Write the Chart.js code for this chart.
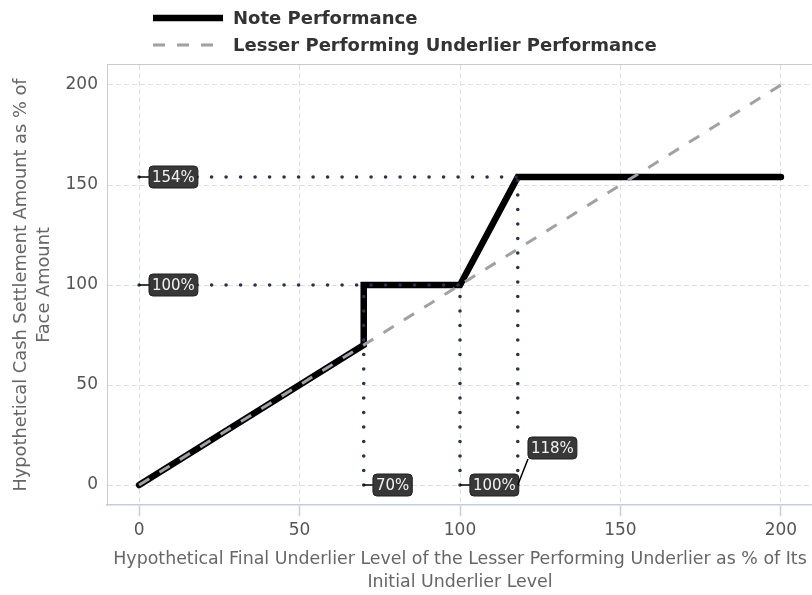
<!DOCTYPE html>
<html><head><meta charset="utf-8">
<script src="https://cdn.jsdelivr.net/npm/chart.js@4.4.1/dist/chart.umd.min.js"></script>
<style>html,body{margin:0;padding:0;overflow:hidden;background:#fff;width:812px;height:595px}canvas{display:block}</style>
</head><body>
<canvas id="c" width="813" height="595"></canvas>
<script>
// ---- data ----
const noteX = [0, 70, 70, 100, 118, 200];
const noteY = [0, 70, 100, 100, 154, 154];
const underX = [0, 200];
const underY = [0, 200];
const xTicks = [0, 50, 100, 150, 200];
const yTicks = [0, 50, 100, 150, 200];
// reference guide lines
const hGuideY = [154, 100];
const hGuideXEnd = [118, 100];
const vGuideX = [70, 100, 118];
const vGuideYEnd = [100, 100, 154];
// value labels
const labelText = ['154%', '100%', '70%', '100%', '118%'];
const labelPointX = [0, 0, 70, 100, 118];
const labelPointY = [154, 100, 0, 0, 0];
const labelBoxX = [10.7, 10.7, 79, 110.7, 128.8];
const labelBoxY = [154, 100, 0, 0, 18.5];
const seriesNames = ['Note Performance', 'Lesser Performing Underlier Performance'];

const FONT = 'DejaVu Sans';
const GUIDE = '#283350';
const pts = (xs, ys) => xs.map((x, i) => ({x: x, y: ys[i]}));

const datasets = [
  {label: seriesNames[0], data: pts(noteX, noteY), borderColor: '#000', borderWidth: 6.5,
   borderCapStyle: 'round', borderJoinStyle: 'miter', pointRadius: 0, fill: false, order: 3},
  {label: seriesNames[1], data: pts(underX, underY), borderColor: '#a0a0a6', borderWidth: 3,
   borderDash: [12, 12], pointRadius: 0, fill: false, order: 2}
];
hGuideY.forEach((y, i) => datasets.push({label: 'g', data: [{x: 0, y: y}, {x: hGuideXEnd[i], y: y}],
  borderColor: GUIDE, borderWidth: 3.6, borderDash: [0, 14.5], borderCapStyle: 'round', pointRadius: 0, order: 1}));
vGuideX.forEach((x, i) => datasets.push({label: 'g', data: [{x: x, y: 0}, {x: x, y: vGuideYEnd[i]}],
  borderColor: GUIDE, borderWidth: 3.6, borderDash: [0, 14.5], borderCapStyle: 'round', pointRadius: 0, order: 1}));

const panelPlugin = {
  id: 'panel',
  beforeDatasetsDraw(chart) {
    const {ctx, chartArea: a} = chart;
    ctx.save();
    ctx.strokeStyle = '#cccccc'; ctx.lineWidth = 1;
    ctx.beginPath();
    ctx.moveTo(a.left, a.top - 0.5); ctx.lineTo(a.right, a.top - 0.5);
    ctx.moveTo(a.right - 0.5, a.top); ctx.lineTo(a.right - 0.5, a.bottom);
    ctx.stroke();
    ctx.restore();
  }
};

const labelPlugin = {
  id: 'valueLabels',
  afterDatasetsDraw(chart) {
    const {ctx, scales: {x, y}} = chart;
    ctx.save();
    ctx.font = '15px "' + FONT + '"';
    labelText.forEach((t, i) => {
      const px = x.getPixelForValue(labelPointX[i]), py = y.getPixelForValue(labelPointY[i]);
      const cx = x.getPixelForValue(labelBoxX[i]), cy = y.getPixelForValue(labelBoxY[i]);
      const w = ctx.measureText(t).width + 6, h = 22;
      const l = cx - w / 2, tp = cy - h / 2;
      const qx = Math.min(Math.max(px, l), l + w), qy = Math.min(Math.max(py, tp), tp + h);
      ctx.strokeStyle = '#000'; ctx.lineWidth = 1.5; ctx.setLineDash([]);
      ctx.beginPath(); ctx.moveTo(px, py); ctx.lineTo(qx, qy); ctx.stroke();
      ctx.fillStyle = '#383838'; ctx.strokeStyle = '#1e1e1e'; ctx.lineWidth = 1;
      ctx.beginPath(); ctx.roundRect(l, tp, w, h, 4); ctx.fill(); ctx.stroke();
      ctx.fillStyle = '#f2f2f2'; ctx.textAlign = 'center'; ctx.textBaseline = 'middle';
      ctx.fillText(t, cx, cy + 1);
    });
    ctx.restore();
  }
};

const legendPlugin = {
  id: 'customLegend',
  afterDraw(chart) {
    const {ctx} = chart;
    const rows = [18, 45];
    ctx.save();
    [0, 1].forEach(i => {
      const ds = chart.data.datasets[i];
      ctx.strokeStyle = ds.borderColor; ctx.lineWidth = ds.borderWidth;
      ctx.setLineDash(ds.borderDash || []); ctx.lineCap = 'butt';
      ctx.beginPath(); ctx.moveTo(153, rows[i]); ctx.lineTo(223, rows[i]); ctx.stroke();
      ctx.setLineDash([]);
      ctx.fillStyle = '#333'; ctx.font = 'bold 18px "' + FONT + '"';
      ctx.textAlign = 'left'; ctx.textBaseline = 'middle';
      ctx.fillText(ds.label, 233, rows[i] + 1);
    });
    ctx.restore();
  }
};

new Chart(document.getElementById('c'), {
  type: 'line',
  data: {datasets: datasets},
  options: {
    responsive: false, animation: false,
    layout: {padding: {top: 65, left: 0, right: 0, bottom: 0}},
    plugins: {legend: {display: false}, tooltip: {enabled: false}},
    scales: {
      x: {
        type: 'linear', min: -10, max: 210,
        afterBuildTicks: s => { s.ticks = xTicks.map(v => ({value: v})); },
        afterFit: s => { s.height = 90; },
        grid: {color: '#dedede', lineWidth: 1, tickColor: '#c3cddd', tickLength: 11, tickBorderDash: [], tickWidth: 1.5},
        border: {color: '#c3cddd', width: 1.5, dash: [5, 3]},
        ticks: {padding: 4, color: '#555', font: {family: FONT, size: 17}, maxRotation: 0},
        title: {display: true, color: '#666', font: {family: FONT, size: 17.4, lineHeight: 1.33},
          padding: {top: 0, bottom: 1},
          text: ['Hypothetical Final Underlier Level of the Lesser Performing Underlier as % of Its', 'Initial Underlier Level']}
      },
      y: {
        type: 'linear', min: -10, max: 210,
        afterBuildTicks: s => { s.ticks = yTicks.map(v => ({value: v})); },
        afterFit: s => { s.width = 107; },
        grid: {color: '#dedede', lineWidth: 1, drawTicks: false},
        border: {color: '#cccccc', width: 1, dash: [5, 3]},
        ticks: {padding: 9, color: '#555', font: {family: FONT, size: 17}},
        title: {display: true, color: '#666', font: {family: FONT, size: 17.8, lineHeight: 1.3},
          padding: {top: 10, bottom: 0},
          text: ['Hypothetical Cash Settlement Amount as % of', 'Face Amount']}
      }
    }
  },
  plugins: [panelPlugin, labelPlugin, legendPlugin]
});
</script>
</body></html>
